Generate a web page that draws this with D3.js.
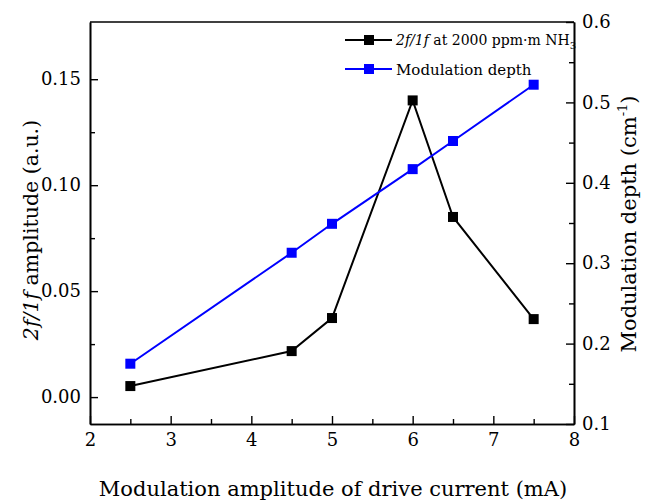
<!DOCTYPE html>
<html>
<head>
<meta charset="utf-8">
<script src="https://cdn.jsdelivr.net/npm/d3@7"></script>
<style>
  body { margin: 0; background: #fff; }
  text { font-family: "DejaVu Serif", serif; }
</style>
</head>
<body>
<svg id="chart" width="654" height="504"></svg>
<script>
// data
const current = [2.5, 4.5, 5, 6, 6.5, 7.5];
const ratio2f1f = [0.0052, 0.0217, 0.0373, 0.140, 0.085, 0.0368];
const modDepth = [0.175, 0.313, 0.349, 0.417, 0.452, 0.522];
const xTicks = [2, 3, 4, 5, 6, 7, 8];
const leftTicks = [0, 0.05, 0.10, 0.15];
const rightTicks = [0.1, 0.2, 0.3, 0.4, 0.5, 0.6];

const svg = d3.select("#chart");
const plotL = 90, plotR = 574, plotT = 22, plotB = 424;

// scales
const x = d3.scaleLinear().domain([2, 8]).range([plotL, plotR]);
const yL = d3.scaleLinear().domain([-0.0127, 0.177]).range([plotB, plotT]);
const yR = d3.scaleLinear().domain([0.1, 0.6]).range([plotB, plotT]);

// minor ticks (midpoints)
const xMinor = d3.range(2.5, 8, 1);
const lMinor = d3.range(0.025, 0.17, 0.05);
const rMinor = d3.range(0.15, 0.6, 0.1);

function styleAxis(g) {
    g.select(".domain").attr("stroke", "#000").attr("stroke-width", 1.6);
    g.selectAll(".tick line").attr("stroke", "#000").attr("stroke-width", 1.4);
    g.selectAll("text").attr("font-size", 18).attr("fill", "#000")
        .style("font-family", "DejaVu Serif, serif");
}

// bottom axis
svg.append("g")
    .attr("transform", `translate(0,${plotB})`)
    .call(d3.axisBottom(x).tickValues(xTicks).tickFormat(d3.format("d")).tickSize(-8).tickPadding(9).tickSizeOuter(0))
    .call(styleAxis);
svg.append("g")
    .attr("transform", `translate(0,${plotB})`)
    .call(d3.axisBottom(x).tickValues(xMinor).tickSize(-5).tickFormat("").tickSizeOuter(0))
    .call(styleAxis);

// left axis
svg.append("g")
    .attr("transform", `translate(${plotL},0)`)
    .call(d3.axisLeft(yL).tickValues(leftTicks).tickFormat(d3.format(".2f")).tickSize(-8).tickPadding(9).tickSizeOuter(0))
    .call(styleAxis);
svg.append("g")
    .attr("transform", `translate(${plotL},0)`)
    .call(d3.axisLeft(yL).tickValues(lMinor).tickSize(-5).tickFormat("").tickSizeOuter(0))
    .call(styleAxis);

// right axis
svg.append("g")
    .attr("transform", `translate(${plotR},0)`)
    .call(d3.axisRight(yR).tickValues(rightTicks).tickFormat(d3.format(".1f")).tickSize(-8).tickPadding(8).tickSizeOuter(0))
    .call(styleAxis);
svg.append("g")
    .attr("transform", `translate(${plotR},0)`)
    .call(d3.axisRight(yR).tickValues(rMinor).tickSize(-5).tickFormat("").tickSizeOuter(0))
    .call(styleAxis);

// top border
svg.append("line")
    .attr("x1", plotL).attr("x2", plotR).attr("y1", plotT).attr("y2", plotT)
    .attr("stroke", "#000").attr("stroke-width", 1.6);

// series
const series = [
    { vals: ratio2f1f, y: yL, color: "#000000" },
    { vals: modDepth, y: yR, color: "#0000ff" }
];
series.forEach(s => {
    const pts = current.map((c, i) => [c, s.vals[i]]);
    svg.append("path")
        .datum(pts)
        .attr("fill", "none")
        .attr("stroke", s.color)
        .attr("stroke-width", 2)
        .attr("d", d3.line().x(d => x(d[0])).y(d => s.y(d[1])));
    svg.selectAll(null)
        .data(pts)
        .enter().append("rect")
        .attr("x", d => x(d[0]) - 5)
        .attr("y", d => s.y(d[1]) - 5)
        .attr("width", 10).attr("height", 10)
        .attr("fill", s.color);
});

// legend
const legend = svg.append("g");
const legendRows = [
    { color: "#000000", y: 40 },
    { color: "#0000ff", y: 69 }
];
legendRows.forEach(r => {
    legend.append("line").attr("x1", 345).attr("x2", 392).attr("y1", r.y).attr("y2", r.y)
        .attr("stroke", r.color).attr("stroke-width", 2);
    legend.append("rect").attr("x", 364).attr("y", r.y - 5).attr("width", 10).attr("height", 10)
        .attr("fill", r.color);
});
const t1 = legend.append("text").attr("x", 396).attr("y", 45).attr("font-size", 14);
t1.append("tspan").attr("font-style", "italic").text("2f/1f");
t1.append("tspan").text(" at 2000 ppm·m NH");
t1.append("tspan").attr("font-size", 10).attr("dy", 4).text("3");
legend.append("text").attr("x", 396).attr("y", 75).attr("font-size", 15).text("Modulation depth");

// axis titles
svg.append("text")
    .attr("x", (plotL + plotR) / 2 + 1).attr("y", 496)
    .attr("text-anchor", "middle").attr("font-size", 21)
    .text("Modulation amplitude of drive current (mA)");

const lt = svg.append("text")
    .attr("transform", "translate(38,230) rotate(-90)")
    .attr("text-anchor", "middle").attr("font-size", 20.5);
lt.append("tspan").attr("font-style", "italic").text("2f/1f");
lt.append("tspan").text(" amplitude (a.u.)");

const rt = svg.append("text")
    .attr("transform", "translate(636,224) rotate(-90)")
    .attr("text-anchor", "middle").attr("font-size", 21);
rt.append("tspan").text("Modulation depth (cm");
rt.append("tspan").attr("font-size", 13).attr("dy", -9).text("-1");
rt.append("tspan").attr("dy", 9).text(")");
</script>
</body>
</html>
